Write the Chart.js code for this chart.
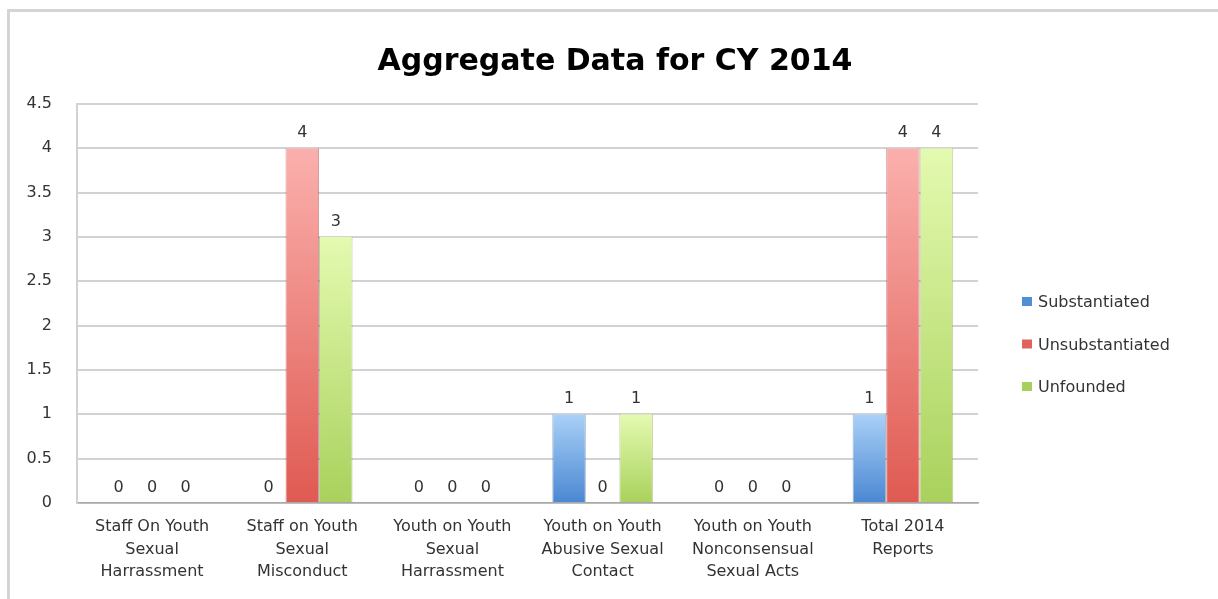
<!DOCTYPE html>
<html>
<head>
<meta charset="utf-8">
<title>Aggregate Data for CY 2014</title>
<script src="https://cdn.jsdelivr.net/npm/chart.js@4"></script>
<style>
html,body{margin:0;background:#fff;overflow:hidden;width:1218px;height:599px;position:relative;}
#frame{position:absolute;left:7px;top:9px;right:-60px;bottom:-60px;border-top:3px solid #d4d4d4;border-left:3px solid #d4d4d4;}
#chart{position:absolute;left:0;top:0;}
</style>
</head>
<body>
<div id="frame"></div>
<canvas id="chart" width="1218" height="599"></canvas>
<script>
// chart data
const categories = [
["Staff On Youth","Sexual","Harrassment"],
["Staff on Youth","Sexual","Misconduct"],
["Youth on Youth","Sexual","Harrassment"],
["Youth on Youth","Abusive Sexual","Contact"],
["Youth on Youth","Nonconsensual","Sexual Acts"],
["Total 2014","Reports"]
];
const seriesNames = ["Substantiated","Unsubstantiated","Unfounded"];
const substantiated = [0,0,0,1,0,1];
const unsubstantiated = [0,4,0,0,0,4];
const unfounded = [0,3,0,1,0,4];
const yTickLabels = ["0","0.5","1","1.5","2","2.5","3","3.5","4","4.5"];
const yMin = 0, yMax = 4.5, yStep = 0.5;
const chartTitle = "Aggregate Data for CY 2014";

// colours: [top, bottom, legend swatch]
const shades = [
["#a9d0f7","#4a87d2","#4f8fd8"],
["#fbb0ad","#df5a52","#e0625c"],
["#e4fab0","#a9d15c","#a6cf5c"]
];

const FONT = "'DejaVu Sans', sans-serif";

function barFill(i){
return function(c){
const chart = c.chart;
if(!chart.chartArea || c.raw == null) return shades[i][2];
const y = chart.scales.y;
const top = y.getPixelForValue(c.raw);
const bottom = y.getPixelForValue(0);
if(bottom - top < 1) return shades[i][2];
const g = chart.ctx.createLinearGradient(0, top, 0, bottom);
g.addColorStop(0, shades[i][0]);
g.addColorStop(1, shades[i][1]);
return g;
};
}

const extras = {
id: "extras",
afterDatasetsDraw(chart){
const ctx = chart.ctx;
ctx.save();
ctx.font = "16px " + FONT;
ctx.fillStyle = "#333";
ctx.textAlign = "center";
ctx.textBaseline = "bottom";
chart.data.datasets.forEach((ds, i) => {
chart.getDatasetMeta(i).data.forEach((el, j) => {
ctx.fillText(String(ds.data[j]), el.x, el.y - 7);
});
});
ctx.restore();
},
afterDraw(chart){
const ctx = chart.ctx;
ctx.save();
// title
ctx.font = "bold 30px " + FONT;
ctx.fillStyle = "#000";
ctx.textAlign = "center";
ctx.textBaseline = "middle";
ctx.fillText(chartTitle, 615, 62);
// legend
ctx.font = "16px " + FONT;
ctx.textAlign = "left";
chart.data.datasets.forEach((ds, i) => {
const cy = 302 + i * 42.5;
ctx.fillStyle = shades[i][2];
ctx.fillRect(1022, cy - 5, 10, 9);
ctx.fillStyle = "#333";
ctx.fillText(ds.label, 1038, cy + 1);
});
ctx.restore();
}
};

new Chart(document.getElementById("chart"), {
type: "bar",
data: {
labels: categories,
datasets: [
{label: seriesNames[0], data: substantiated, backgroundColor: barFill(0), borderColor: "rgba(60,100,160,0.5)", borderWidth: {left:1,right:1}},
{label: seriesNames[1], data: unsubstantiated, backgroundColor: barFill(1), borderColor: "rgba(170,60,55,0.5)", borderWidth: {left:1,right:1}},
{label: seriesNames[2], data: unfounded, backgroundColor: barFill(2), borderColor: "rgba(120,160,60,0.5)", borderWidth: {left:1,right:1}}
]
},
options: {
responsive: false,
animation: false,
layout: {padding: {top: 104, right: 240, bottom: 0, left: 0}},
categoryPercentage: 0.67,
barPercentage: 1,
plugins: {
legend: {display: false},
title: {display: false},
tooltip: {enabled: false}
},
scales: {
x: {
grid: {display: false, drawTicks: false},
border: {color: "#a8a8a8", width: 1.5},
ticks: {
font: {family: FONT, size: 16, lineHeight: 1.4},
color: "#333",
padding: 13,
maxRotation: 0,
autoSkip: false
},
afterFit(scale){ scale.height = 96; }
},
y: {
min: yMin,
max: yMax,
ticks: {
stepSize: yStep,
font: {family: FONT, size: 16},
color: "#333",
padding: 25,
callback: (v, idx) => yTickLabels[idx]
},
grid: {color: "#d2d2d2", lineWidth: 2, drawTicks: false},
border: {color: "#d2d2d2", width: 2},
afterFit(scale){ scale.width = 77; }
}
}
},
plugins: [extras]
});
</script>
</body>
</html>
